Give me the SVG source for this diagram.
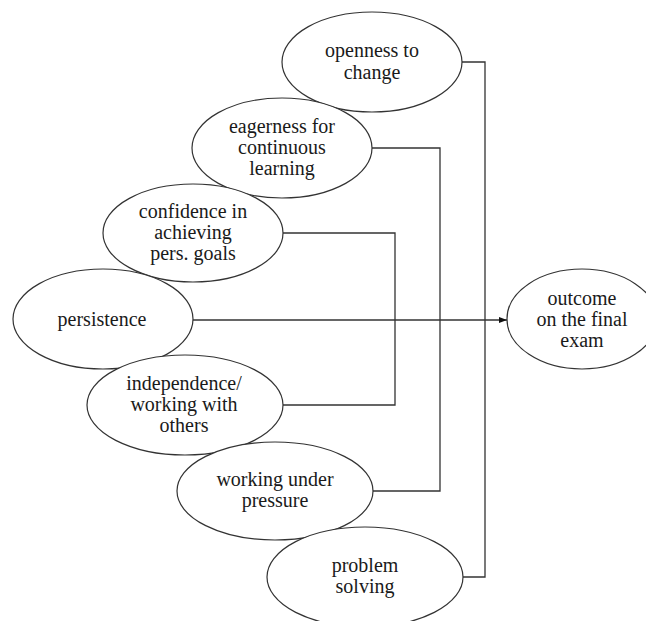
<svg xmlns="http://www.w3.org/2000/svg" width="646" height="621" viewBox="0 0 646 621">
<style>
.n{fill:#fff;stroke:#333;stroke-width:1.2}
.t{font-family:"Liberation Serif","DejaVu Serif",serif;font-size:20px;fill:#1a1a1a;text-anchor:middle}
.c{fill:none;stroke:#333;stroke-width:1.3}
</style>
<defs>
<marker id="ah" markerWidth="8" markerHeight="6" refX="8" refY="3" orient="auto" markerUnits="userSpaceOnUse">
<path d="M0,0 L8,3 L0,6 Z" fill="#111"/>
</marker>
</defs>
<rect width="646" height="621" fill="#fff"/>
<g id="connectors">
<polyline class="c" points="462,62 485,62 485,577 462,577"/>
<polyline class="c" points="372,148 440,148 440,491 373,491"/>
<polyline class="c" points="283,233 395,233 395,405 283,405"/>
<line class="c" x1="193" y1="320" x2="507" y2="320" marker-end="url(#ah)"/>
</g>
<g id="openness">
<ellipse class="n" cx="372" cy="62" rx="90" ry="50"/>
<text class="t" x="372" y="57">openness to</text>
<text class="t" x="372" y="79">change</text>
</g>
<g id="eagerness">
<ellipse class="n" cx="282" cy="148" rx="90" ry="50"/>
<text class="t" x="282" y="133">eagerness for</text>
<text class="t" x="282" y="154">continuous</text>
<text class="t" x="282" y="175">learning</text>
</g>
<g id="confidence">
<ellipse class="n" cx="193" cy="233" rx="90" ry="49"/>
<text class="t" x="193" y="218">confidence in</text>
<text class="t" x="193" y="239">achieving</text>
<text class="t" x="193" y="260">pers. goals</text>
</g>
<g id="persistence">
<ellipse class="n" cx="103" cy="319" rx="90" ry="50"/>
<text class="t" x="102" y="326">persistence</text>
</g>
<g id="independence">
<ellipse class="n" cx="185" cy="405" rx="98" ry="50"/>
<text class="t" x="184" y="390">independence/</text>
<text class="t" x="184" y="411">working with</text>
<text class="t" x="184" y="432">others</text>
</g>
<g id="pressure">
<ellipse class="n" cx="275" cy="491" rx="98" ry="49"/>
<text class="t" x="275" y="486">working under</text>
<text class="t" x="275" y="507">pressure</text>
</g>
<g id="problem">
<ellipse class="n" cx="365" cy="577" rx="98" ry="50"/>
<text class="t" x="365" y="572">problem</text>
<text class="t" x="365" y="593">solving</text>
</g>
<g id="outcome">
<ellipse class="n" cx="582" cy="319" rx="75" ry="50"/>
<text class="t" x="582" y="305">outcome</text>
<text class="t" x="582" y="326">on the final</text>
<text class="t" x="582" y="347">exam</text>
</g>
</svg>
